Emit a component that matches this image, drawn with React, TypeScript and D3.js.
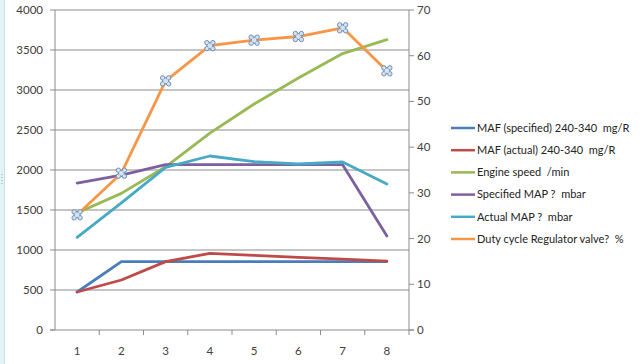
import React from 'react';
import * as d3 from 'd3';

const categories = ['1', '2', '3', '4', '5', '6', '7', '8'];
const leftTicks = [0, 500, 1000, 1500, 2000, 2500, 3000, 3500, 4000];
const rightTicks = [0, 10, 20, 30, 40, 50, 60, 70];

const mafSpecified = [475, 855, 855, 855, 855, 855, 855, 855];
const mafActual = [475, 625, 855, 958, 933, 908, 887, 862];
const engineSpeed = [1462, 1708, 2040, 2460, 2825, 3150, 3455, 3630];
const specifiedMap = [1837, 1937, 2067, 2067, 2067, 2067, 2067, 1175];
const actualMap = [1158, 1590, 2033, 2175, 2104, 2075, 2100, 1825];
const dutyCycle = [25.2, 34.3, 54.5, 62.2, 63.4, 64.2, 66.1, 56.7];

const seriesNames = [
  'MAF (specified) 240-340  mg/R',
  'MAF (actual) 240-340  mg/R',
  'Engine speed  /min',
  'Specified MAP ?  mbar',
  'Actual MAP ?  mbar',
  'Duty cycle Regulator valve?  %',
];
const colors = ['#4a7ebb', '#be4b48', '#98b954', '#7d60a0', '#46aac5', '#f79646'];

const font = 'Lato, "Open Sans", sans-serif';

export default function App() {
  const W = 640;
  const H = 364;
  const plot = { left: 55, right: 409, top: 10, bottom: 330 };

  const x = d3.scaleBand().domain(categories).range([plot.left, plot.right]);
  const xc = (i: number) => (x(categories[i]) as number) + x.bandwidth() / 2;
  const yL = d3.scaleLinear().domain([0, 4000]).range([plot.bottom, plot.top]);
  const yR = d3.scaleLinear().domain([0, 70]).range([plot.bottom, plot.top]);

  const lineL = d3.line<number>().x((d, i) => xc(i)).y((d) => yL(d));
  const lineR = d3.line<number>().x((d, i) => xc(i)).y((d) => yR(d));

  const leftSeries = [mafSpecified, mafActual, engineSpeed, specifiedMap, actualMap];

  // draw order: behind to front roughly like excel
  const drawOrder = [0, 1, 2, 3, 4];

  const marker = (cx: number, cy: number, k: number) => {
    const o = 3;
    const r = 2.2;
    return (
      <g key={k} transform={`translate(${cx},${cy})`} stroke="#6f8fb3" strokeWidth={1} fill="#d5e2f0">
        <rect x={-o} y={-o} width={o * 2} height={o * 2} />
        <circle cx={-o} cy={-o} r={r} />
        <circle cx={o} cy={-o} r={r} />
        <circle cx={-o} cy={o} r={r} />
        <circle cx={o} cy={o} r={r} />
        <rect x={-o + 1} y={-o + 1} width={o * 2 - 2} height={o * 2 - 2} stroke="none" />
      </g>
    );
  };

  const legendX = 451;
  const legendY0 = 128;
  const legendStep = 22.2;

  return (
    <svg
      width={W}
      height={H}
      style={{ position: 'fixed', left: 0, top: 0, background: '#fff' }}
      fontFamily={font}
    >
      <rect x={0} y={0} width={W} height={H} fill="#fff" />
      {/* left edge strip from the source screenshot */}
      <rect x={0} y={0} width={4} height={H} fill="#e4f3f6" />
      <line x1={4.5} x2={4.5} y1={0} y2={H} stroke="#c3e2ea" />
      {[174, 177, 180, 183].map((yy) => (
        <rect key={yy} x={1.5} y={yy} width={1} height={1} fill="#7fa9b5" />
      ))}

      {/* gridlines */}
      {leftTicks.slice(1).map((t) => (
        <line key={t} x1={plot.left} x2={plot.right} y1={yL(t)} y2={yL(t)} stroke="#8c8c8c" strokeWidth={1} />
      ))}

      {/* axes */}
      <line x1={plot.left} x2={plot.left} y1={plot.top} y2={plot.bottom} stroke="#8c8c8c" />
      <line x1={plot.right} x2={plot.right} y1={plot.top} y2={plot.bottom} stroke="#8c8c8c" />
      <line x1={plot.left - 5} x2={plot.right + 5} y1={plot.bottom} y2={plot.bottom} stroke="#8c8c8c" />

      {leftTicks.map((t) => (
        <g key={t}>
          <line x1={plot.left - 5} x2={plot.left} y1={yL(t)} y2={yL(t)} stroke="#8c8c8c" />
          <text x={43} y={yL(t)} dy="0.35em" textAnchor="end" fontSize={11.5} fill="#404040">
            {t}
          </text>
        </g>
      ))}
      {rightTicks.map((t) => (
        <g key={t}>
          <line x1={plot.right} x2={plot.right + 5} y1={yR(t)} y2={yR(t)} stroke="#8c8c8c" />
          <text x={417} y={yR(t)} dy="0.35em" textAnchor="start" fontSize={11.5} fill="#404040">
            {t}
          </text>
        </g>
      ))}
      {categories.map((c, i) => (
        <g key={c}>
          <line
            x1={(x(c) as number) + x.bandwidth()}
            x2={(x(c) as number) + x.bandwidth()}
            y1={plot.bottom}
            y2={plot.bottom + 5}
            stroke="#8c8c8c"
          />
          <text x={xc(i)} y={351} dy="0.35em" textAnchor="middle" fontSize={11.5} fill="#404040">
            {c}
          </text>
        </g>
      ))}

      {/* series */}
      {drawOrder.map((si) => (
        <path
          key={si}
          d={lineL(leftSeries[si]) || ''}
          fill="none"
          stroke={colors[si]}
          strokeWidth={2.8}
          strokeLinejoin="round"
          strokeLinecap="round"
        />
      ))}
      <path
        d={lineR(dutyCycle) || ''}
        fill="none"
        stroke={colors[5]}
        strokeWidth={2.8}
        strokeLinejoin="round"
        strokeLinecap="round"
      />
      {dutyCycle.map((v, i) => marker(xc(i), yR(v), i))}

      {/* legend */}
      {seriesNames.map((name, i) => (
        <g key={name} transform={`translate(${legendX},${legendY0 + i * legendStep})`}>
          <line x1={0} x2={24} y1={0} y2={0} stroke={colors[i]} strokeWidth={2.5} />
          <text x={26} y={0} dy="0.35em" fontSize={11} fill="#222" style={{ whiteSpace: 'pre' }}>
            {name}
          </text>
        </g>
      ))}
    </svg>
  );
}
